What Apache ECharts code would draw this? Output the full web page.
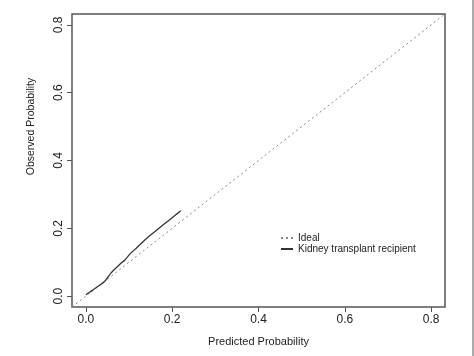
<!DOCTYPE html>
<html><head><meta charset="utf-8">
<script src="https://cdn.jsdelivr.net/npm/echarts@6/dist/echarts.min.js"></script>
<style>html,body{margin:0;padding:0;background:#fff}#c{width:474px;height:356px}</style>
</head><body><div id="c"></div>
<script>
const predicted = [0.000, 0.015, 0.032, 0.044, 0.058, 0.079, 0.090, 0.102, 0.118, 0.133, 0.150, 0.171, 0.195, 0.220];
const observed  = [0.004, 0.017, 0.032, 0.044, 0.068, 0.094, 0.106, 0.124, 0.143, 0.161, 0.180, 0.202, 0.226, 0.252];
const idealX = [-0.05, 0.85];
const idealY = [-0.05, 0.85];
const tickValues = [0, 0.2, 0.4, 0.6, 0.8];
const axisMin = -0.032, axisMax = 0.832;

const chart = echarts.init(document.getElementById('c'));
const font = 'Liberation Sans, Arial, sans-serif';
const fmt = v => v.toFixed(1);
chart.setOption({
  animation: false,
  grid: {left: 72, right: 29, top: 14, bottom: 49, show: true, borderColor: '#555', borderWidth: 1.5, backgroundColor: '#fff'},
  xAxis: {
    type: 'value', min: axisMin, max: axisMax,
    name: 'Predicted Probability', nameLocation: 'middle', nameGap: 29,
    nameTextStyle: {fontFamily: font, fontSize: 11, color: '#222'},
    axisLine: {show: false, onZero: false}, splitLine: {show: false},
    axisTick: {show: true, length: 5, lineStyle: {color: '#555'}, customValues: tickValues},
    axisLabel: {fontFamily: font, fontSize: 12, color: '#222', margin: 7, customValues: tickValues, formatter: fmt}
  },
  yAxis: {
    type: 'value', min: axisMin, max: axisMax,
    name: 'Observed Probability', nameLocation: 'middle', nameGap: 35, nameRotate: 90,
    nameTextStyle: {fontFamily: font, fontSize: 10.5, color: '#222', padding: [0, 0, 0, 68]},
    axisLine: {show: false, onZero: false}, splitLine: {show: false},
    axisTick: {show: true, length: 5, lineStyle: {color: '#555'}, customValues: tickValues},
    axisLabel: {fontFamily: font, fontSize: 12, color: '#222', margin: 7, rotate: 90, customValues: tickValues, formatter: fmt}
  },
  legend: {
    orient: 'vertical', left: 275, top: 228, itemWidth: 12, itemHeight: 8, itemGap: 1,
    itemStyle: {opacity: 0},
    textStyle: {fontFamily: font, fontSize: 10, color: '#222'},
    data: ['Ideal', 'Kidney transplant recipient']
  },
  series: [
    {name: 'Ideal', type: 'line', symbol: 'none', clip: true,
     data: idealX.map((x, i) => [x, idealY[i]]),
     itemStyle: {color: '#888'},
     lineStyle: {color: '#888', width: 1, type: [2, 3]}},
    {name: 'Kidney transplant recipient', type: 'line', symbol: 'none', smooth: 0.2,
     data: predicted.map((x, i) => [x, observed[i]]),
     itemStyle: {color: '#333'},
     lineStyle: {color: '#333', width: 1.3}}
  ],
  graphic: [
    {type: 'rect', shape: {x: 472, y: 0, width: 2, height: 356}, style: {fill: '#aaa'}}
  ]
});
</script></body></html>
